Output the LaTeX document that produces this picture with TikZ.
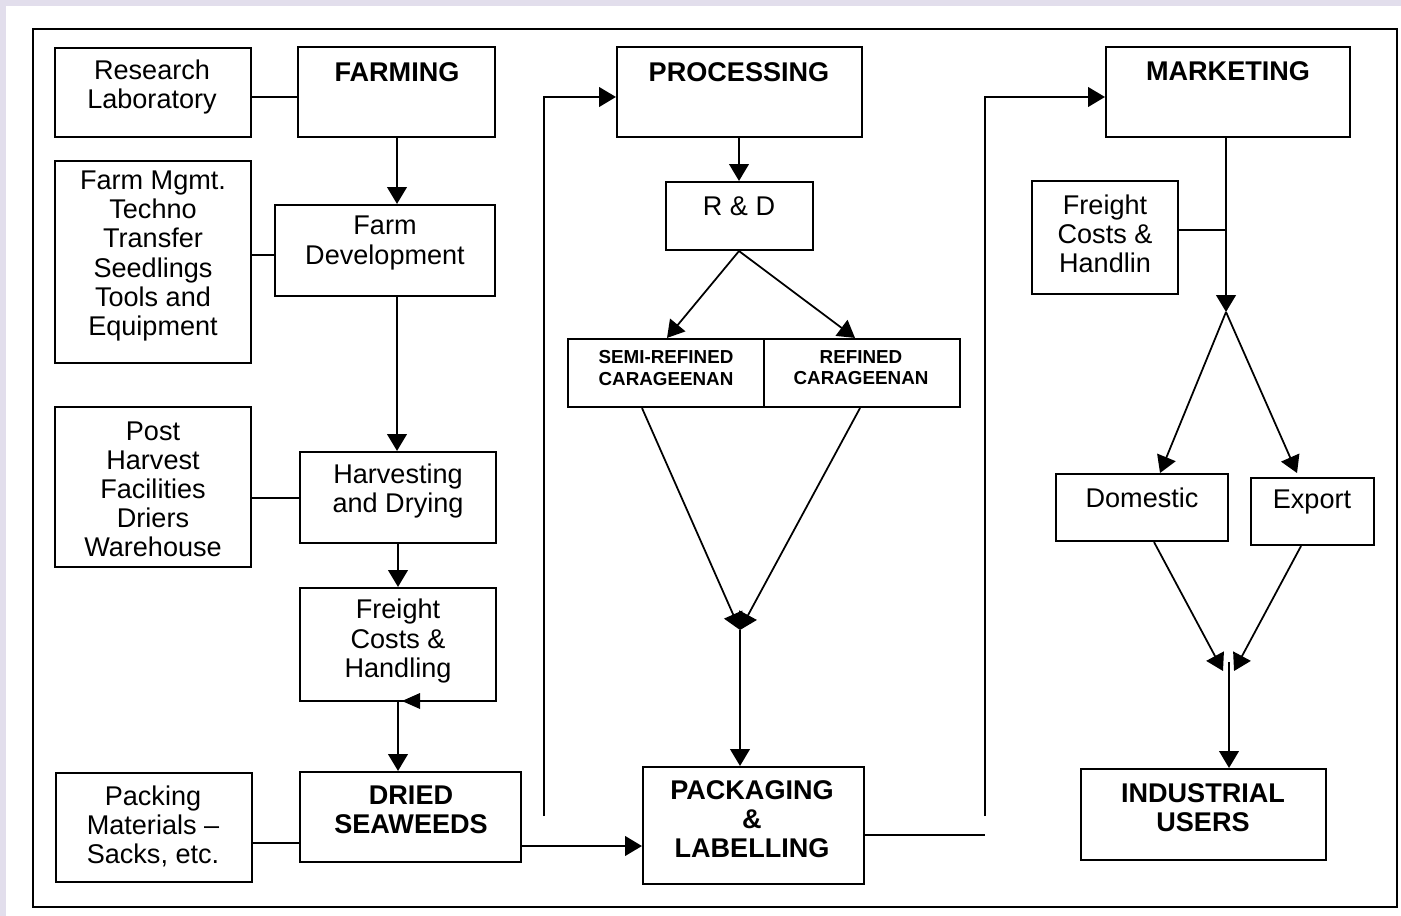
\documentclass[tikz,border=0pt]{standalone}
\usepackage{fontspec}
\setmainfont{Liberation Sans}
\usetikzlibrary{fit,arrows.meta}
\definecolor{lav}{HTML}{E2DEEC}
\tikzset{
  box/.style={draw, line width=0.6pt, inner sep=0pt, rectangle},
  txt/.style={align=center, inner sep=0pt, font=\fontsize{7.7}{8.25}\selectfont},
  btxt/.style={align=center, inner sep=0pt, font=\fontsize{7.7}{8.25}\selectfont\bfseries},
  stxt/.style={align=center, inner sep=0pt, font=\fontsize{5.35}{6}\selectfont\bfseries},
  con/.style={line width=0.5pt},
  arr/.style={line width=0.5pt, -{Triangle[length=4.8pt,width=5.6pt]}},
}
\begin{document}
\begin{tikzpicture}[x=0.01cm,y=-0.01cm]
\useasboundingbox (0,0) rectangle (1401,916);
\fill[lav] (0,0) rectangle (1401,916);
\fill[white] (6,6) rectangle (1401,916);
\draw[line width=0.8pt] (33,29) rectangle (1397,907);

% boxes
\node[box, fit={(55,48)(251,137)}] (research) {};
\node[box, fit={(298,47)(495,137)}] (farming) {};
\node[box, fit={(55,161)(251,363)}] (mgmt) {};
\node[box, fit={(275,205)(495,296)}] (farmdev) {};
\node[box, fit={(55,407)(251,567)}] (post) {};
\node[box, fit={(300,452)(496,543)}] (harvest) {};
\node[box, fit={(300,588)(496,701)}] (freightA) {};
\node[box, fit={(56,773)(252,882)}] (packing) {};
\node[box, fit={(300,772)(521,862)}] (dried) {};
\node[box, fit={(617,47)(862,137)}] (processing) {};
\node[box, fit={(666,182)(813,250)}] (rd) {};
\node[box, fit={(568,339)(764,407)}] (semi) {};
\node[box, fit={(764,339)(960,407)}] (refined) {};
\node[box, fit={(643,767)(864,884)}] (pack) {};
\node[box, fit={(1106,47)(1350,137)}] (marketing) {};
\node[box, fit={(1032,181)(1178,294)}] (freightB) {};
\node[box, fit={(1056,474)(1228,541)}] (domestic) {};
\node[box, fit={(1251,478)(1374,545)}] (export) {};
\node[box, fit={(1081,769)(1326,860)}] (industrial) {};

% texts
\node[txt] (researchT) at (152,87) {Research\\Laboratory};
\node[btxt] (farmingT) at (397,72) {FARMING};
\node[txt] (mgmtT) at (153,256) {Farm Mgmt.\\Techno\\Transfer\\Seedlings\\Tools and\\Equipment};
\node[txt] (farmdevT) at (385,243) {Farm\\Development};
\node[txt] (postT) at (153,489) {Post\\Harvest\\Facilities\\Driers\\Warehouse};
\node[txt] (harvestT) at (398,491) {Harvesting\\and Drying};
\node[txt] (freightAT) at (398,641) {Freight\\Costs \&\\Handling};
\node[txt] (packingT) at (153,826) {Packing\\Materials --\\Sacks, etc.};
\node[btxt] (driedT) at (411,810) {DRIED\\SEAWEEDS};
\node[btxt] (processingT) at (739,72) {PROCESSING};
\node[txt] (rdT) at (739,206) {R \& D};
\node[stxt] (semiT) at (666,368) {SEMI-REFINED\\CARAGEENAN};
\node[stxt] (refinedT) at (861,368) {REFINED\\CARAGEENAN};
\node[btxt] (packT) at (752,819) {PACKAGING\\\&\\LABELLING};
\node[btxt] (marketingT) at (1228,71) {MARKETING};
\node[txt] (freightBT) at (1105,234) {Freight\\Costs \&\\Handlin};
\node[txt] (domesticT) at (1142,498) {Domestic};
\node[txt] (exportT) at (1312,502) {Export};
\node[btxt] (industrialT) at (1203,808) {INDUSTRIAL\\USERS};

% coordinates
\coordinate (loopA) at (544,816);
\coordinate (loopB) at (985,816);
\coordinate (packEnd) at (985,835);
\coordinate (merge) at (740,630);
\coordinate (split) at (1226,312);
\coordinate (mergeB) at (1229,662);

% farming column
\draw[con] (research.east |- 0,97) -- (farming.west |- 0,97);
\draw[arr] (farming.south -| 397,0) -- (farmdev.north -| 397,0);
\draw[con] (mgmt.east |- 0,255) -- (farmdev.west |- 0,255);
\draw[arr] (farmdev.south -| 397,0) -- (harvest.north -| 397,0);
\draw[con] (post.east |- 0,498) -- (harvest.west |- 0,498);
\draw[arr] (harvest.south -| 398,0) -- (freightA.north -| 398,0);
\draw[arr] (freightA.south -| 398,0) -- (dried.north -| 398,0);
\fill (402,701) -- (420,693) -- (420,709) -- cycle;
\draw[con] (packing.east |- 0,843) -- (dried.west |- 0,843);
\draw[arr] (dried.east |- 0,846) -- (pack.west |- 0,846);

% processing
\draw[arr] (loopA) -- (544,97) -- (processing.west |- 0,97);
\draw[arr] (processing.south -| 739,0) -- (rd.north -| 739,0);
\draw[arr] (rd.south -| 739,0) -- (semi.north -| 667,0);
\draw[arr] (rd.south -| 739,0) -- (refined.north -| 855,0);
\draw[arr] (semi.south -| 642,0) -- (merge);
\draw[arr] (refined.south -| 860,0) -- (merge);
\draw[arr] (merge) -- (pack.north -| merge);
\draw[con] (pack.east |- packEnd) -- (packEnd);

% marketing
\draw[arr] (loopB) -- (985,97) -- (marketing.west |- 0,97);
\draw[arr] (marketing.south -| split) -- (split);
\draw[con] (freightB.east |- 0,230) -- (1226,230);
\draw[arr] (split) -- (1160,473);
\draw[arr] (split) -- (1297,473);
\draw[arr] (domestic.south -| 1154,0) -- (1223,671);
\draw[arr] (export.south -| 1301,0) -- (1234,671);
\draw[arr] (mergeB) -- (industrial.north -| mergeB);
\end{tikzpicture}
\end{document}
